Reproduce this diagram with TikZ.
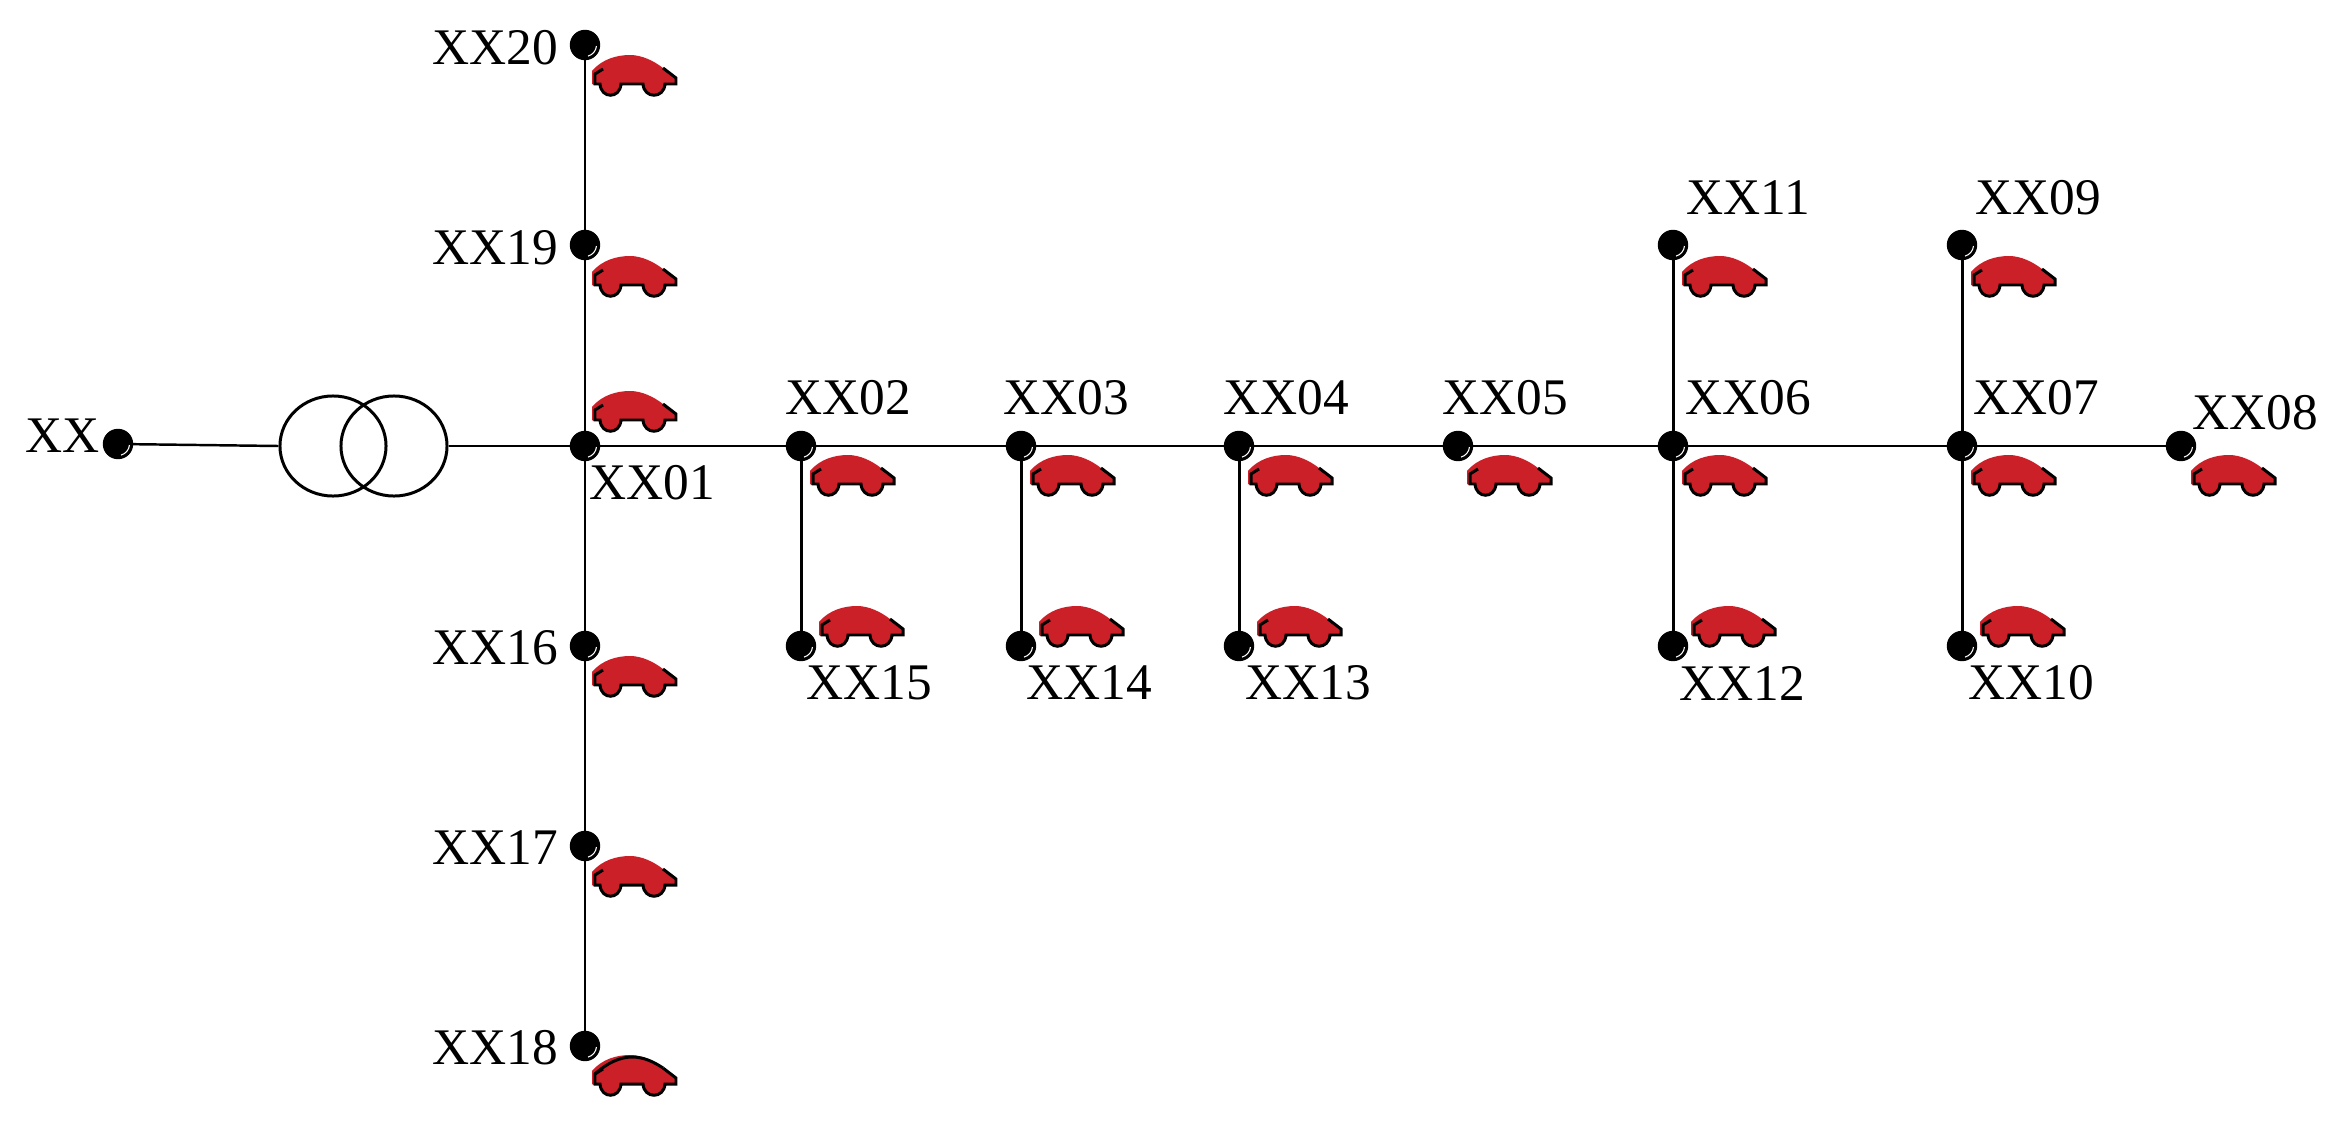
\documentclass[tikz,border=0pt]{standalone}
\usepackage{fontspec}
\setmainfont{Liberation Serif}
\usetikzlibrary{shapes.geometric}
\tikzset{
    bus/.style={circle, fill=black, draw=black, inner sep=0pt, minimum size=0.29cm,
        path picture={\draw[white, line width=0.3pt] (path picture bounding box.center)
            ++(-75:0.115cm) arc[start angle=-75, end angle=-5, radius=0.115cm];}},
    lbl/.style={inner sep=0pt, font=\fontsize{14.6}{16}\selectfont},
    wire/.style={draw=black, line width=0.85pt},
    tx/.style={ellipse, draw=black, line width=0.85pt, inner sep=0pt, minimum width=1.06cm, minimum height=1.0cm},
    evcar/.pic={
        \fill[carred] (2,30) -- (0,29) -- (0,16) .. controls (10,4) and (25,0) .. (38,0)
            .. controls (50,0) and (62,6) .. (71,13) -- (84,23) -- (84,29) -- (73,29)
            .. controls (72,44) and (52,44) .. (51,29) -- (29,29)
            .. controls (28,44) and (9,44) .. (8,29) -- cycle;
        \draw[wire] (11,14) -- (3,19) -- (3,29) -- (8,29)
            .. controls (9,44) and (28,44) .. (29,29) -- (51,29)
            .. controls (52,44) and (72,44) .. (73,29) -- (84,29) -- (84,23) -- (71,13);
    },
    evcartop/.pic={
        \draw[wire] (3,19) .. controls (15,8) and (28,2) .. (40,2)
            .. controls (52,2) and (62,7) .. (71,13);
    }
}
\definecolor{carred}{RGB}{204,32,40}
\begin{document}
\begin{tikzpicture}[x=0.01cm, y=-0.01cm]
    \useasboundingbox (0,0) rectangle (2347,1124);
    %% Buses
    \node[bus] (b00) at (118,444) {};
    \node[bus] (b01) at (585,446) {};
    \node[bus] (b02) at (801,446) {};
    \node[bus] (b03) at (1021,446) {};
    \node[bus] (b04) at (1239,446) {};
    \node[bus] (b05) at (1458,446) {};
    \node[bus] (b06) at (1673,446) {};
    \node[bus] (b07) at (1962,446) {};
    \node[bus] (b08) at (2181,446) {};
    \node[bus] (b09) at (1962,245) {};
    \node[bus] (b10) at (1962,646) {};
    \node[bus] (b11) at (1673,245) {};
    \node[bus] (b12) at (1673,646) {};
    \node[bus] (b13) at (1239,646) {};
    \node[bus] (b14) at (1021,646) {};
    \node[bus] (b15) at (801,646) {};
    \node[bus] (b16) at (585,646) {};
    \node[bus] (b17) at (585,846) {};
    \node[bus] (b18) at (585,1046) {};
    \node[bus] (b19) at (585,245) {};
    \node[bus] (b20) at (585,45) {};
    %% Transformer
    \node[tx] (tx1) at (333,446) {};
    \node[tx] (tx2) at (394,446) {};
    %% Lines
    \draw[wire, line width=0.7pt] (b00) -- (tx1.west);
    \draw[wire] (tx2.east) -- (b01);
    \draw[wire] (b01) -- (b02);
    \draw[wire] (b02) -- (b03);
    \draw[wire] (b03) -- (b04);
    \draw[wire] (b04) -- (b05);
    \draw[wire] (b05) -- (b06);
    \draw[wire] (b06) -- (b07);
    \draw[wire] (b07) -- (b08);
    \draw[wire] (b07) -- (b09);
    \draw[wire] (b07) -- (b10);
    \draw[wire] (b06) -- (b11);
    \draw[wire] (b06) -- (b12);
    \draw[wire] (b04) -- (b13);
    \draw[wire] (b03) -- (b14);
    \draw[wire] (b02) -- (b15);
    \draw[wire] (b01) -- (b16);
    \draw[wire] (b16) -- (b17);
    \draw[wire] (b17) -- (b18);
    \draw[wire] (b01) -- (b19);
    \draw[wire] (b19) -- (b20);
    %% Cars
    \pic (car01) at (592,391) {evcar};
    \pic (car02) at (810,455) {evcar};
    \pic (car03) at (1030,455) {evcar};
    \pic (car04) at (1248,455) {evcar};
    \pic (car05) at (1467,455) {evcar};
    \pic (car06) at (1682,455) {evcar};
    \pic (car07) at (1971,455) {evcar};
    \pic (car08) at (2191,455) {evcar};
    \pic (car09) at (1971,256) {evcar};
    \pic (car10) at (1980,606) {evcar};
    \pic (car11) at (1682,256) {evcar};
    \pic (car12) at (1691,606) {evcar};
    \pic (car13) at (1257,606) {evcar};
    \pic (car14) at (1039,606) {evcar};
    \pic (car15) at (819,606) {evcar};
    \pic (car16) at (592,656) {evcar};
    \pic (car17) at (592,856) {evcar};
    \pic (car18) at (592,1055) {evcar};
    \pic (car18top) at (592,1055) {evcartop};
    \pic (car19) at (592,256) {evcar};
    \pic (car20) at (592,55) {evcar};
    %% Text Nodes
    \node[lbl] at (63,436) (b00txt) {XX};
    \node[lbl] at (652,483) (b01txt) {XX01};
    \node[lbl] at (848,398) (b02txt) {XX02};
    \node[lbl] at (1066,398) (b03txt) {XX03};
    \node[lbl] at (1286,398) (b04txt) {XX04};
    \node[lbl] at (1505,398) (b05txt) {XX05};
    \node[lbl] at (1748,398) (b06txt) {XX06};
    \node[lbl] at (2036,398) (b07txt) {XX07};
    \node[lbl] at (2255,413) (b08txt) {XX08};
    \node[lbl] at (2038,198) (b09txt) {XX09};
    \node[lbl] at (2031,683) (b10txt) {XX10};
    \node[lbl] at (1748,198) (b11txt) {XX11};
    \node[lbl] at (1742,683) (b12txt) {XX12};
    \node[lbl] at (1308,683) (b13txt) {XX13};
    \node[lbl] at (1089,683) (b14txt) {XX14};
    \node[lbl] at (869,683) (b15txt) {XX15};
    \node[lbl] at (495,648) (b16txt) {XX16};
    \node[lbl] at (495,848) (b17txt) {XX17};
    \node[lbl] at (495,1048) (b18txt) {XX18};
    \node[lbl] at (495,248) (b19txt) {XX19};
    \node[lbl] at (495,48) (b20txt) {XX20};
\end{tikzpicture}
\end{document}
